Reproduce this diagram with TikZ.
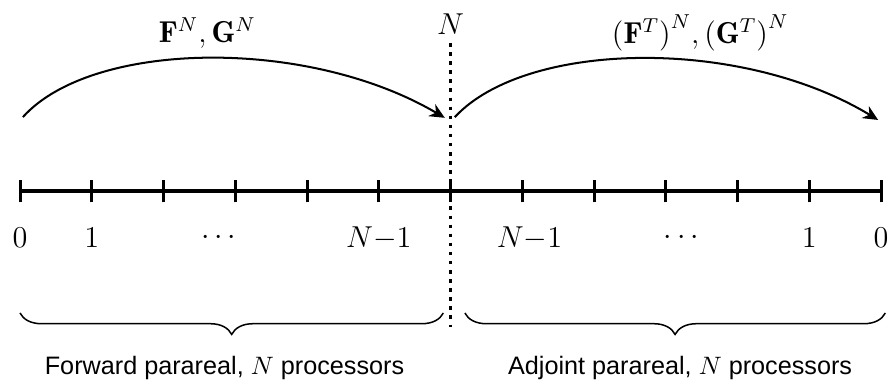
\documentclass[tikz,border=0pt]{standalone}
\usepackage{fontspec}
\newfontfamily\labelfont{Liberation Sans}
\usetikzlibrary{arrows.meta,decorations.pathreplacing}

\begin{document}
\begin{tikzpicture}[
  tick/.style={line width=1.2pt},
  flow/.style={line width=0.8pt,-{Stealth[length=6pt,width=5.5pt]}},
  cut/.style={line width=1.5pt,dash pattern=on 1.4pt off 2.2pt},
  lbl/.style={font=\fontsize{12}{14}\selectfont},
  txt/.style={font=\labelfont\fontsize{10}{12}\selectfont},
  brc/.style={decorate,decoration={brace,mirror,amplitude=8.5pt},line width=0.6pt}
]
  \useasboundingbox (-0.279,-2.704) rectangle (12.139,2.662);
  % time axis
  \draw[tick] (0,0) -- (12,0);
  \foreach \i in {0,...,12}
    \draw[tick] (\i,-0.16) -- (\i,0.16);
  \node[lbl] (l0) at (0,-0.655) {$0$};
  \node[lbl] (l1) at (1,-0.655) {$1$};
  \node[lbl] (ldots) at (2.77,-0.655) {$\cdots$};
  \node[lbl] (lnm) at (5,-0.655) {$N{-}1$};
  \node[lbl] (rnm) at (7.1,-0.655) {$N{-}1$};
  \node[lbl] (rdots) at (9.22,-0.655) {$\cdots$};
  \node[lbl] (r1) at (11,-0.655) {$1$};
  \node[lbl] (r0) at (12,-0.655) {$0$};
  % split at N
  \node[lbl] (nlab) at (6,2.33) {$N$};
  \coordinate (cutend) at (6,-1.9);
  \draw[cut] (nlab.south) -- (cutend);
  % forward and adjoint sweeps
  \coordinate (fwdstart) at (0.04,1.03);
  \coordinate (fwdend) at (5.92,1.02);
  \coordinate (adjstart) at (6.06,1.03);
  \coordinate (adjend) at (11.96,0.99);
  \draw[flow] (fwdstart) .. controls (1.0,2.1) and (4.0,2.15) .. (fwdend);
  \draw[flow] (adjstart) .. controls (7.05,2.1) and (10.05,2.15) .. (adjend);
  \node[lbl] (fwdlab) at (2.61,2.2) {$\mathbf{F}^N, \mathbf{G}^N$};
  \node[lbl] (adjlab) at (9.48,2.2) {$\bigl(\mathbf{F}^T\bigr)^N, \bigl(\mathbf{G}^T\bigr)^N$};
  % processor groups
  \coordinate (fwda) at (0,-1.70);
  \coordinate (fwdb) at (5.9,-1.70);
  \coordinate (adja) at (6.2,-1.70);
  \coordinate (adjb) at (12.06,-1.70);
  \draw[brc] (fwda) -- (fwdb);
  \draw[brc] (adja) -- (adjb);
  \node[txt] (fwdtxt) at (2.85,-2.47) {Forward parareal, $N$ processors};
  \node[txt] (adjtxt) at (9.2,-2.47) {Adjoint parareal, $N$ processors};
\end{tikzpicture}
\end{document}
